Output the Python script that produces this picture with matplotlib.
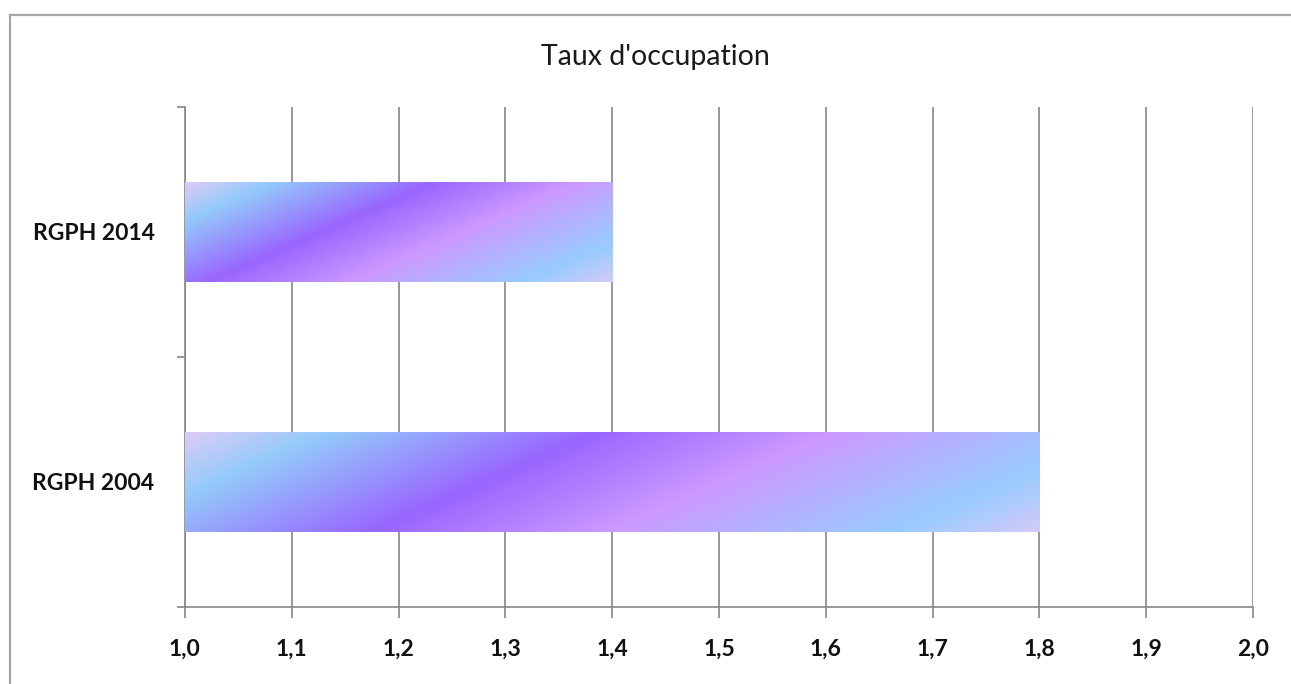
import matplotlib
matplotlib.use("Agg")
import matplotlib.pyplot as plt
import numpy as np
from matplotlib.colors import LinearSegmentedColormap
from matplotlib.patches import Rectangle

categories = ["RGPH 2004", "RGPH 2014"]
values = [1.8, 1.4]
x_ticks = [1.0, 1.1, 1.2, 1.3, 1.4, 1.5, 1.6, 1.7, 1.8, 1.9, 2.0]
title = "Taux d'occupation"

base = 1.0
grad = LinearSegmentedColormap.from_list("excel", [
    (0.0, "#dcccf6"),
    (0.13, "#94cafa"),
    (0.38, "#9966ff"),
    (0.60, "#cc99ff"),
    (0.87, "#99ccff"),
    (1.0, "#d2caf8"),
])

plt.rcParams['font.family'] = ['Lato', 'DejaVu Sans']

fig = plt.figure(figsize=(12.91, 6.84), dpi=100)
ax = fig.add_axes([185 / 1291, 1 - 607 / 684, (1253 - 185) / 1291, 500 / 684])

# outer chart frame
fig.patches.append(Rectangle((10 / 1291, -0.05), 1.2, 1 - 15 / 684 + 0.05,
                             transform=fig.transFigure, fill=False,
                             edgecolor="#a6a6a6", linewidth=1.6))

ypos = np.arange(len(categories))
bars = ax.barh(ypos, [v - base for v in values], left=base, height=0.4,
               color="none", edgecolor="none", zorder=3)

shift = 0.21
for rect in bars:
    x0, y0 = rect.get_x(), rect.get_y()
    w, h = rect.get_width(), rect.get_height()
    xs = np.linspace(0, w, 600)
    ys = np.linspace(0, 1, 100)
    X, Y = np.meshgrid(xs, ys)
    # row 0 = top edge of the bar
    t = (X + shift * Y) / (w + shift)
    img = grad(t)
    im = ax.imshow(img, extent=(x0, x0 + w, y0, y0 + h), origin="upper",
                   aspect="auto", zorder=3, interpolation="bilinear")
    im.set_clip_path(rect)

ax.set_xlim(1.0, 2.0)
ax.set_ylim(-0.5, 1.5)
ax.set_xticks(x_ticks)
ax.set_xticklabels([f"{v:.1f}".replace(".", ",") for v in x_ticks],
                   fontsize=16.5, fontweight="bold", color="#111111")
ax.set_yticks(ypos)
ax.set_yticklabels(categories, fontsize=16.5, fontweight="bold", color="#111111")
ax.set_yticks([-0.5, 0.5, 1.5], minor=True)
ax.tick_params(axis="y", which="major", length=0, pad=22)
ax.tick_params(axis="y", which="minor", length=6, color="#868686", width=1.2)
ax.tick_params(axis="x", length=8, color="#868686", width=1.2, pad=15)

ax.grid(axis="x", color="#868686", linewidth=1.2, zorder=0)
ax.set_axisbelow(True)
for s in ["top", "right"]:
    ax.spines[s].set_visible(False)
for s in ["left", "bottom"]:
    ax.spines[s].set_color("#868686")
    ax.spines[s].set_linewidth(1.2)

fig.text(655 / 1291, 1 - 57 / 684, title, ha="center", va="center",
         fontsize=20.5, color="#1a1a1a")

fig.savefig("out.png", dpi=100, facecolor="white")
